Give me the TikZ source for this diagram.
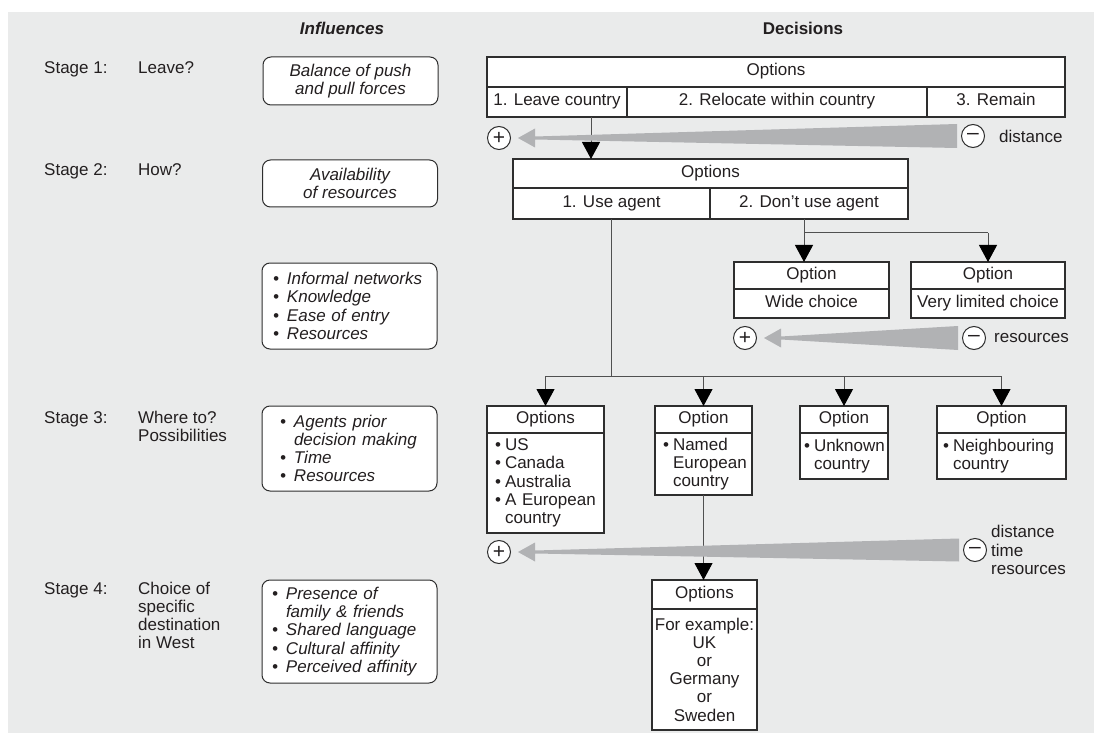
\documentclass[tikz,border=0pt]{standalone}
\usepackage{fontspec}
\setmainfont{Liberation Sans}
\usetikzlibrary{positioning,calc,arrows.meta}

\definecolor{panelgray}{HTML}{EAEBEB}
\definecolor{wedgegray}{HTML}{B1B2B4}
\definecolor{boxline}{HTML}{2E2E2E}
\definecolor{linkgray}{HTML}{505050}
\definecolor{inkcol}{HTML}{231F20}

\newcommand{\itm}{\makebox[14pt][l]{\textbullet}}
\newcommand{\cnt}{\hspace*{14pt}}
\newcommand{\dbl}{\makebox[10pt][l]{\textbullet}}
\newcommand{\dcn}{\hspace*{10pt}}

\tikzset{
  every node/.append style={text=inkcol},
  box/.style={draw=boxline, fill=white, line width=1.2pt, inner sep=0pt, outer sep=0pt, anchor=north west},
  cell/.style={box, text height=12pt, text depth=4pt},
  listcell/.style={box, align=left},
  infbox/.style={draw=boxline, fill=white, rounded corners=8pt, line width=1pt, font=\itshape, minimum width=175},
  stage/.style={anchor=base west, inner sep=0pt},
  stagem/.style={anchor=north west, inner sep=0pt, align=left},
  sign/.style={circle, draw=boxline, fill=white, line width=1pt, minimum size=23pt, inner sep=0pt, font=\fontsize{21}{21}\selectfont},
  link/.style={draw=linkgray, line width=1pt},
  arr/.style={link, -{Triangle[length=17pt,width=18pt,color=black]}}
}

\begin{document}
\hyphenpenalty=10000
\begin{tikzpicture}[x=1pt,y=-1pt]
    \fontsize{17}{18.2}\selectfont
    \useasboundingbox (0,0) rectangle (1102,735);
    \fill[panelgray] (8,12) rectangle (1094,733);

    %headings
    \node[font=\bfseries\itshape] (influences) at (342,28) {Influences};
    \node[font=\bfseries] (decisions) at (803,28) {Decisions};

    %stages
    \node[stage] (st1) at (44,74) {Stage 1:};
    \node[stage] (q1) at (138,74) {Leave?};
    \node[stage] (st2) at (44,176) {Stage 2:};
    \node[stage] (q2) at (138,176) {How?};
    \node[stage] (st3) at (44,423) {Stage 3:};
    \node[stagem] (q3) at (138,410.5) {Where to?\\Possibilities};
    \node[stage] (st4) at (44,594) {Stage 4:};
    \node[stagem] (q4) at (138,581.5) {Choice of\\specific\\destination\\in West};

    %influences
    \node[infbox, minimum height=48, align=center] (inf1) at (350.5,81) {Balance of push\\and pull forces};
    \node[infbox, minimum height=47, align=center] (inf2) at (350,183.5) {Availability\\of resources};
    \node[infbox, minimum height=86, align=left, inner xsep=11, text width=153] (inf3) at (349.5,306)
      {\itm Informal networks\\\itm Knowledge\\\itm Ease of entry\\\itm Resources};
    \node[infbox, minimum height=85, align=left, inner xsep=18, text width=139] (inf4) at (349.5,448.5)
      {\itm Agents prior\\\cnt decision making\\\itm Time\\\itm Resources};
    \node[infbox, minimum height=103, align=left, inner xsep=10, text width=155] (inf5) at (349.5,631.5)
      {\itm Presence of\\\cnt family \& friends\\\itm Shared language\\\itm Cultural affinity\\\itm Perceived affinity};

    %stage 1 options
    \node[cell, minimum width=578, minimum height=30] (opt1) at (487,57) {Options};
    \node[cell, minimum width=140, minimum height=30] (leave) at (opt1.south west) {1. Leave country};
    \node[cell, minimum width=300, minimum height=30] (relocate) at (leave.north east) {2. Relocate within country};
    \node[cell, minimum width=138, minimum height=30] (remain) at (relocate.north east) {3. Remain};

    %stage 2 options
    \node[cell, minimum width=395, minimum height=29] (opt2) at (513,159) {Options};
    \node[cell, minimum width=197, minimum height=31] (agent) at (opt2.south west) {1. Use agent};
    \node[cell, minimum width=198, minimum height=31] (noagent) at (agent.north east) {2. Don't use agent};

    \node[cell, minimum width=155, minimum height=27] (wideh) at (734,262) {Option};
    \node[cell, minimum width=155, minimum height=29] (wide) at (wideh.south west) {Wide choice};
    \node[cell, minimum width=154, minimum height=27] (limh) at (911,262) {Option};
    \node[cell, minimum width=154, minimum height=29] (limited) at (limh.south west) {Very limited choice};

    %stage 3 options
    \node[cell, minimum width=117, minimum height=27] (ush) at (487,406) {Options};
    \node[listcell, minimum width=117, minimum height=100, inner xsep=8, text width=101] (uslist) at (ush.south west)
      {\dbl US\\\dbl Canada\\\dbl Australia\\\dbl A European\\\dcn country};
    \node[cell, minimum width=97, minimum height=27] (namedh) at (655,406) {Option};
    \node[listcell, minimum width=97, minimum height=62, inner xsep=8, text width=81] (namedlist) at (namedh.south west)
      {\dbl Named\\\dcn European\\\dcn country};
    \node[cell, minimum width=88, minimum height=27] (unknownh) at (800,406) {Option};
    \node[listcell, minimum width=88, minimum height=46, inner xsep=4, text width=80] (unknownlist) at (unknownh.south west)
      {\dbl Unknown\\\dcn country};
    \node[cell, minimum width=129, minimum height=27] (neighh) at (937,406) {Option};
    \node[listcell, minimum width=129, minimum height=46, inner xsep=6, text width=117] (neighlist) at (neighh.south west)
      {\dbl Neighbouring\\\dcn country};

    %stage 4 options
    \node[cell, minimum width=105, minimum height=29] (exh) at (652,580) {Options};
    \node[box, minimum width=105, minimum height=121, align=center] (exlist) at (exh.south west)
      {For example:\\UK\\or\\Germany\\or\\Sweden};

    %connectors
    \coordinate (fork) at (0,233);
    \coordinate (bus) at (0,376);
    \draw[arr] ([xshift=34pt]leave.south) -- ([xshift=34pt]leave.south |- opt2.north);
    \draw[link] ([xshift=-5pt]noagent.south) -- ([xshift=-5pt]noagent.south |- fork) -- (fork -| limh.north);
    \draw[arr] ([xshift=-5pt]noagent.south |- fork) -- ([xshift=-5pt]noagent.south |- wideh.north);
    \draw[arr] (fork -| limh.north) -- (limh.north);
    \draw[link] (agent.south) -- (agent.south |- bus);
    \draw[link] (bus -| ush.north) -- (bus -| neighh.north);
    \foreach \n in {ush,namedh,unknownh,neighh}
      \draw[arr] (bus -| \n.north) -- (\n.north);
    \draw[arr] (namedlist.south) -- (namedlist.south |- exh.north);

    %gradients
    \node[sign] (plus1) at (499,138) {+};
    \node[sign] (minus1) at (973,136) {--};
    \node[sign] (plus2) at (745,338) {+};
    \node[sign] (minus2) at (974,338) {--};
    \node[sign] (plus3) at (499,552) {+};
    \node[sign] (minus3) at (975,550) {--};
    \foreach \p/\m/\h in {plus1/minus1/12, plus2/minus2/12, plus3/minus3/11.5}
      \fill[wedgegray] ($(\m.west)+(-4,-\h)$) -- ($(\m.west)+(-4,\h)$) -- ($(\p.east)+(24,1.5)$)
        -- ($(\p.east)+(24,9.5)$) -- ($(\p.east)+(7,0)$) -- ($(\p.east)+(24,-9.5)$)
        -- ($(\p.east)+(24,-1.5)$) -- cycle;
    \node[anchor=west, inner sep=0pt] (dist1) at ([xshift=14pt]minus1.east) {distance};
    \node[anchor=west, inner sep=0pt] (res2) at ([xshift=8pt]minus2.east) {resources};
    \node[anchor=west, inner sep=0pt, align=left] (dtr3) at ([xshift=4pt]minus3.east) {distance\\time\\resources};
\end{tikzpicture}
\end{document}
